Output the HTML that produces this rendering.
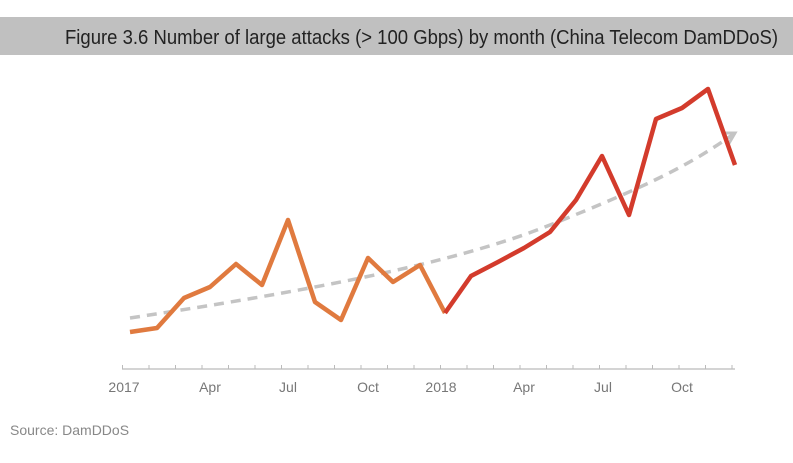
<!DOCTYPE html>
<html><head><meta charset="utf-8"><style>
html,body{margin:0;padding:0;background:#fff;width:793px;height:463px;overflow:hidden;font-family:"Liberation Sans",sans-serif;}
</style></head><body>
<svg width="793" height="463" viewBox="0 0 793 463" xmlns="http://www.w3.org/2000/svg">
<rect x="0" y="17" width="793" height="38" fill="#c0c0c0"/>
<text x="65" y="44" font-size="20" fill="#222" textLength="713" lengthAdjust="spacingAndGlyphs">Figure 3.6 Number of large attacks (&gt; 100 Gbps) by month (China Telecom DamDDoS)</text>
<line x1="122" y1="369" x2="735" y2="369" stroke="#bbb" stroke-width="1.2"/>
<g stroke="#bbb" stroke-width="1">
<path d="M122.5 365v4M149 365v4M175.5 365v4M202 365v4M228.5 365v4M255 365v4M281.5 365v4M308 365v4M334.5 365v4M361 365v4M387.5 365v4M414 365v4M440.5 365v4M467 365v4M493.5 365v4M520 365v4M546.5 365v4M573 365v4M599.5 365v4M626 365v4M652.5 365v4M679 365v4M705.5 365v4M732 365v4"/>
</g>
<g font-size="14" fill="#777" text-anchor="middle">
<text x="124" y="392">2017</text><text x="210" y="392">Apr</text><text x="288" y="392">Jul</text><text x="368" y="392">Oct</text><text x="441" y="392">2018</text><text x="524" y="392">Apr</text><text x="603" y="392">Jul</text><text x="682" y="392">Oct</text>
</g>
<text x="10" y="435" font-size="14" fill="#888">Source: DamDDoS</text>
<path d="M130 318 C 300 292, 450 265, 550 225 S 690 165, 735 133" fill="none" stroke="#c4c4c4" stroke-width="3.5" stroke-dasharray="10,7"/>
<path d="M722 133 L735 133 L728 145" fill="none" stroke="#c4c4c4" stroke-width="3"/>
<polyline points="130,332 157,328 184,298 210,287 236,264 262,285 288,220 315,302 341,320 368,258 393,282 420,265 445,313" fill="none" stroke="#e07a3f" stroke-width="4.5" stroke-linejoin="round"/>
<polyline points="445,313 471,276 498,262 524,248 550,232 576,200 602,156 629,215 656,119 682,108 708,89 735,165" fill="none" stroke="#d33b2c" stroke-width="4.5" stroke-linejoin="round"/>
</svg>
</body></html>
